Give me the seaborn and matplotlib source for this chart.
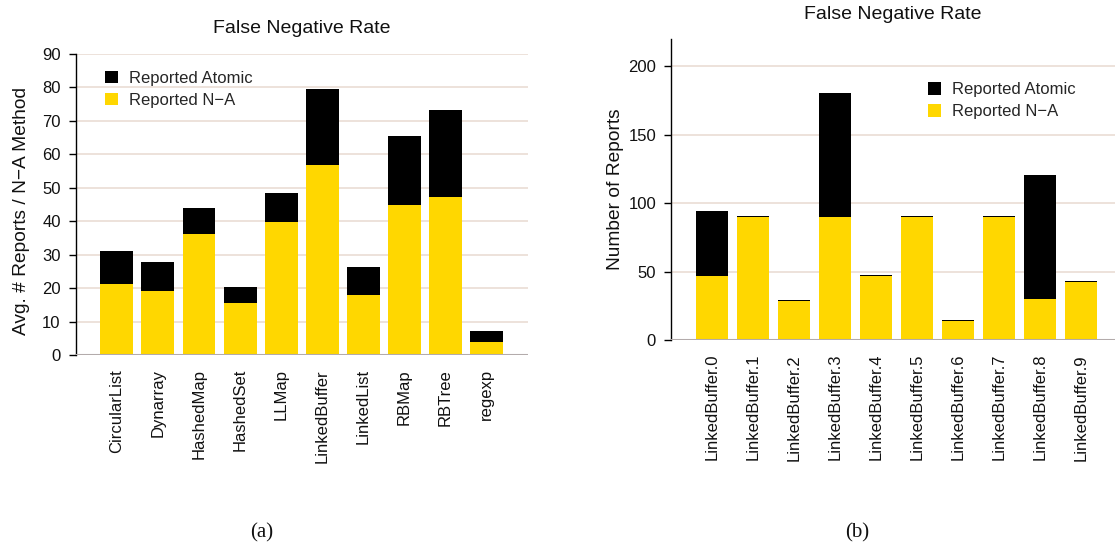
import matplotlib
matplotlib.use("Agg")
import matplotlib.pyplot as plt
import seaborn as sns
import pandas as pd

# Per-benchmark averages (left panel)
benchmarks = ["CircularList", "Dynarray", "HashedMap", "HashedSet", "LLMap",
              "LinkedBuffer", "LinkedList", "RBMap", "RBTree", "regexp"]
avg_na = [21.2, 19.1, 36.2, 15.5, 39.8, 56.8, 17.9, 44.9, 47.2, 3.9]
avg_atomic = [9.9, 8.7, 7.8, 4.8, 8.6, 22.7, 8.4, 20.6, 26.1, 3.3]

# Per-run report counts for LinkedBuffer (right panel)
runs = [f"LinkedBuffer.{i}" for i in range(10)]
run_na = [47, 90, 28.5, 90, 47, 90, 14, 90, 30, 42.5]
run_atomic = [47.3, 0.8, 0.8, 90.5, 0.8, 0.8, 0.8, 0.8, 90.5, 0.8]

YELLOW = "#FFD700"
BLACK = "#000000"
GRID = "#ecdfd8"
BASE = "#b3abab"

sns.set_theme(style="white")
plt.rcParams["font.family"] = ["Liberation Sans", "DejaVu Sans"]

fig = plt.figure(figsize=(11.15, 5.44), dpi=100)
ax1 = fig.add_axes([75.7 / 1115, 189 / 544, 452 / 1115, 301 / 544])
ax2 = fig.add_axes([671 / 1115, 204 / 544, 444 / 1115, 301 / 544])


def stacked(ax, cats, na, atomic, ylim, yticks, ylabel, xright, leg_anchor,
            title_pad):
    df = pd.DataFrame({"cat": cats, "na": na,
                       "total": [a + b for a, b in zip(na, atomic)]})
    sns.barplot(data=df, x="cat", y="total", color=BLACK, width=0.8,
                saturation=1, linewidth=0, label="Reported Atomic", ax=ax,
                zorder=3)
    sns.barplot(data=df, x="cat", y="na", color=YELLOW, width=0.8,
                saturation=1, linewidth=0, label="Reported N\u2212A", ax=ax,
                zorder=3)
    ax.set_xlim(-1, xright)
    ax.set_ylim(*ylim)
    ax.set_yticks(yticks)
    for t in yticks[1:]:
        ax.axhline(t, color=GRID, lw=1.3, zorder=1)
    ax.axhline(0, color=BASE, lw=2.2, zorder=4)
    for s in ["top", "right", "bottom"]:
        ax.spines[s].set_visible(False)
    ax.spines["left"].set_color(BLACK)
    ax.spines["left"].set_linewidth(1.0)
    ax.spines["left"].set_bounds(0, ylim[1])
    ax.tick_params(axis="y", left=True, length=4.8, width=1.0, color=BLACK,
                   pad=6, labelsize=12, labelcolor="#111111")
    ax.tick_params(axis="x", length=0, pad=10, labelsize=12,
                   labelcolor="#111111")
    plt.setp(ax.get_xticklabels(), rotation=90, va="top", ha="center")
    ax.set_xlabel("")
    ax.set_ylabel(ylabel, fontsize=13.8, color="#111111")
    ax.set_title("False Negative Rate", fontsize=14, color="#111111",
                 pad=title_pad)
    ax.legend(loc="upper left", bbox_to_anchor=leg_anchor, frameon=False,
              fontsize=12, handlelength=0.8, handleheight=0.8,
              handletextpad=0.65, labelspacing=0.42, borderpad=0,
              borderaxespad=0)


stacked(ax1, benchmarks, avg_na, avg_atomic, (0, 90), list(range(0, 91, 10)),
        "Avg. # Reports / N\u2212A Method", 10, (0.064, 0.945), 15)
ax1.yaxis.set_label_coords(-0.101, 0.48)

stacked(ax2, runs, run_na, run_atomic, (0, 220), [0, 50, 100, 150, 200],
        "Number of Reports", 9.83, (0.578, 0.857), 14.4)
ax2.yaxis.set_label_coords(-0.106, 0.5)

fig.text(262 / 1115, 1 - 533 / 544, "(a)", family="Liberation Serif",
         fontsize=15, ha="center", va="center", color="#111111")
fig.text(857 / 1115, 1 - 533 / 544, "(b)", family="Liberation Serif",
         fontsize=15, ha="center", va="center", color="#111111")

fig.savefig("out.png", dpi=100)
